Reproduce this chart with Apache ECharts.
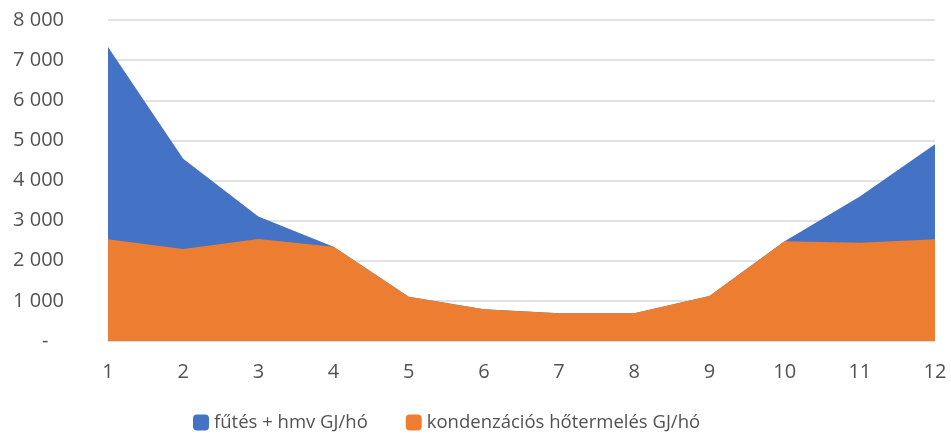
<!DOCTYPE html>
<html>
<head>
<meta charset="utf-8">
<script src="https://cdn.jsdelivr.net/npm/echarts@6/dist/echarts.min.js"></script>
<style>
  html, body { margin: 0; padding: 0; background: #fff; }
  #chart { width: 951px; height: 437px; }
</style>
</head>
<body>
<div id="chart"></div>
<script>
// havi adatok
const months = ['1', '2', '3', '4', '5', '6', '7', '8', '9', '10', '11', '12']
const futesHmv = [7330, 4540, 3100, 2350, 1105, 790, 690, 690, 1120, 2485, 3600, 4905]
const kondenzacios = [2535, 2290, 2540, 2350, 1105, 790, 690, 690, 1120, 2485, 2450, 2535]
const seriesNames = ['fűtés + hmv GJ/hó', 'kondenzációs hőtermelés GJ/hó']

const textColor = '#525252'
const fontFamily = 'Open Sans, Liberation Sans, sans-serif'

const chart = echarts.init(document.getElementById('chart'))
chart.setOption({
  animation: false,
  backgroundColor: '#fff',
  grid: {
    left: 108,
    right: 16,
    top: 20,
    bottom: 96
  },
  legend: {
    bottom: 0,
    left: 188,
    icon: 'roundRect',
    itemWidth: 16,
    itemHeight: 16,
    itemGap: 38,
    textStyle: { color: textColor, fontSize: 18.5, fontFamily: fontFamily },
    data: seriesNames
  },
  xAxis: {
    type: 'category',
    boundaryGap: false,
    data: months,
    axisLine: { lineStyle: { color: '#d9d9d9', width: 1.5 } },
    axisTick: { show: false },
    axisLabel: { color: textColor, fontSize: 20, fontFamily: fontFamily, margin: 21 }
  },
  yAxis: {
    type: 'value',
    min: 0,
    max: 8000,
    interval: 1000,
    axisLine: { show: false },
    axisTick: { show: false },
    splitLine: { lineStyle: { color: '#d9d9d9', width: 1.5 } },
    axisLabel: {
      color: textColor,
      fontSize: 20,
      fontFamily: fontFamily,
      margin: 44,
      formatter: v => v === 0 ? '-   ' : String(v).replace(/\B(?=(\d{3})+(?!\d))/g, ' ')
    }
  },
  series: [
    {
      name: seriesNames[0],
      type: 'line',
      data: futesHmv,
      color: '#4472c4',
      symbol: 'none',
      lineStyle: { width: 0 },
      areaStyle: { color: '#4472c4', opacity: 1 }
    },
    {
      name: seriesNames[1],
      type: 'line',
      data: kondenzacios,
      color: '#ed7d31',
      symbol: 'none',
      lineStyle: { width: 0 },
      areaStyle: { color: '#ed7d31', opacity: 1 }
    }
  ]
})
</script>
</body>
</html>
